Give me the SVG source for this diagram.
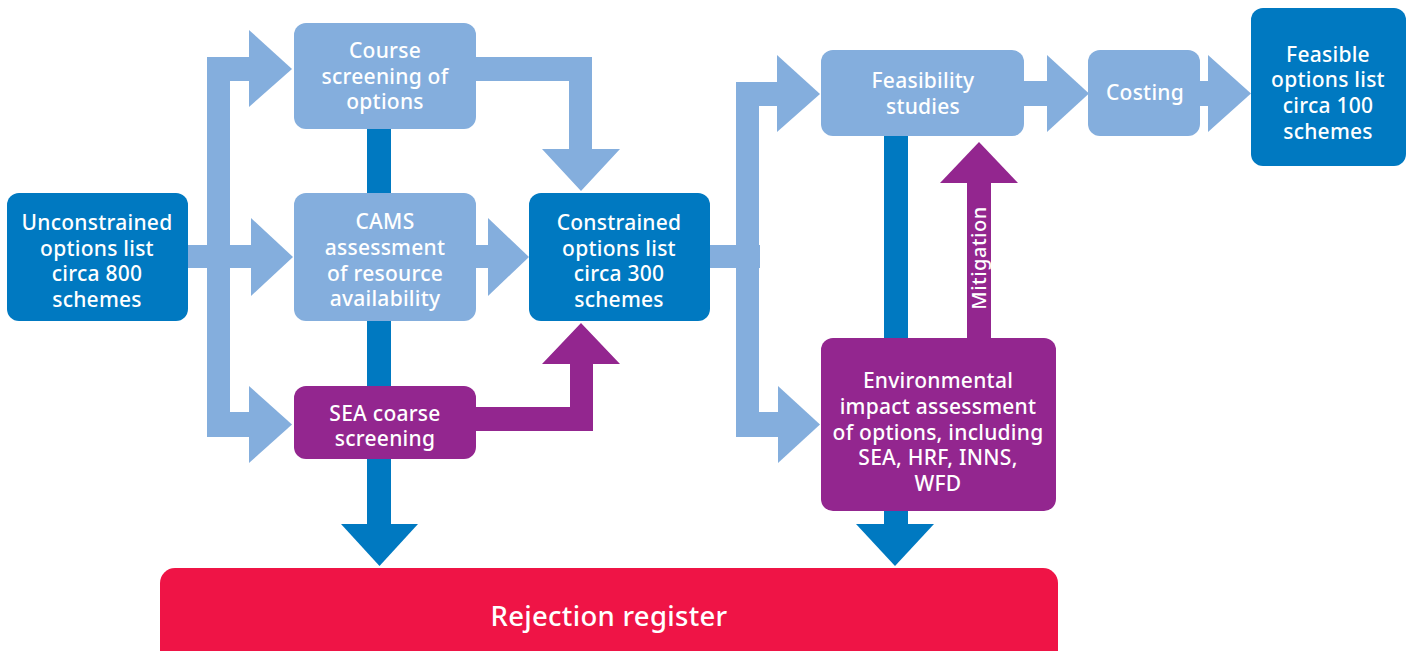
<svg xmlns="http://www.w3.org/2000/svg" width="1410" height="651" viewBox="0 0 1410 651">
<style>
.lb{fill:#84AEDD}
.db{fill:#0079C1}
.pu{fill:#93268F}
.rd{fill:#EF1446}
text{font-family:"Noto Sans","Open Sans","Liberation Sans",sans-serif;font-weight:500;fill:#fff;text-anchor:middle;font-size:21px;letter-spacing:0.25px}
</style>
<rect width="1410" height="651" fill="#fff"/>
<g id="connectors">
  <rect class="lb" x="207" y="57" width="23" height="380"/>
  <rect class="lb" x="207" y="57" width="43" height="24"/>
  <polygon class="lb" points="249,30 292,69 249,107"/>
  <rect class="lb" x="188" y="245" width="64" height="23"/>
  <polygon class="lb" points="251,218 293,257 251,296"/>
  <rect class="lb" x="207" y="412" width="43" height="25"/>
  <polygon class="lb" points="249,386 292,424.5 249,463"/>
  <polygon class="lb" points="476,57 592,57 592,149 620,149 581,191 542,149 569,149 569,81 476,81"/>
  <rect class="lb" x="476" y="245" width="13" height="23"/>
  <polygon class="lb" points="488,218 529,257 488,296"/>
  <rect class="lb" x="710" y="245" width="50" height="23"/>
  <rect class="lb" x="736" y="82" width="23" height="355"/>
  <rect class="lb" x="736" y="82" width="42" height="24"/>
  <polygon class="lb" points="777,55 820,94 777,132"/>
  <rect class="lb" x="736" y="412" width="43" height="25"/>
  <polygon class="lb" points="778,386 820,424.5 778,463"/>
  <rect class="lb" x="1024" y="81" width="24" height="25"/>
  <polygon class="lb" points="1047,55 1089,93.5 1047,132"/>
  <rect class="lb" x="1200" y="81" width="9" height="25"/>
  <polygon class="lb" points="1208,55 1251,93.5 1208,132"/>
  <rect class="db" x="367" y="129" width="24" height="396"/>
  <polygon class="db" points="341,524 418,524 379.5,566"/>
  <rect class="db" x="884" y="136" width="24" height="389"/>
  <polygon class="db" points="856,524 934,524 895,566"/>
  <polygon class="pu" points="476,407 570,407 570,364 542,364 581,323 620,364 593,364 593,431 476,431"/>
  <g id="mitigation">
    <rect class="pu" x="967" y="182" width="24" height="157"/>
    <polygon class="pu" points="940,183 979,142 1018,183"/>
    <text transform="translate(986,258) rotate(-90)" style="font-size:20px;letter-spacing:0.5px">Mitigation</text>
  </g>
</g>
<g id="unconstrained">
  <rect class="db" x="7" y="193" width="181" height="128" rx="12"/>
  <text x="97" y="230">Unconstrained</text>
  <text x="97" y="256">options list</text>
  <text x="97" y="281">circa 800</text>
  <text x="97" y="307">schemes</text>
</g>
<g id="course">
  <rect class="lb" x="294" y="23" width="182" height="106" rx="12"/>
  <text x="385" y="58">Course</text>
  <text x="385" y="84">screening of</text>
  <text x="385" y="109">options</text>
</g>
<g id="cams">
  <rect class="lb" x="294" y="193" width="182" height="128" rx="12"/>
  <text x="385" y="229">CAMS</text>
  <text x="385" y="255">assessment</text>
  <text x="385" y="281">of resource</text>
  <text x="385" y="306">availability</text>
</g>
<g id="sea">
  <rect class="pu" x="294" y="386" width="182" height="73" rx="12"/>
  <text x="385" y="421">SEA coarse</text>
  <text x="385" y="446">screening</text>
</g>
<g id="constrained">
  <rect class="db" x="529" y="193" width="181" height="128" rx="12"/>
  <text x="619" y="230">Constrained</text>
  <text x="619" y="256">options list</text>
  <text x="619" y="281">circa 300</text>
  <text x="619" y="307">schemes</text>
</g>
<g id="feasibility">
  <rect class="lb" x="821" y="50" width="203" height="86" rx="12"/>
  <text x="923" y="88">Feasibility</text>
  <text x="923" y="114">studies</text>
</g>
<g id="costing">
  <rect class="lb" x="1088" y="50" width="112" height="86" rx="12"/>
  <text x="1145" y="100">Costing</text>
</g>
<g id="feasible">
  <rect class="db" x="1251" y="8" width="155" height="158" rx="12"/>
  <text x="1328" y="62">Feasible</text>
  <text x="1328" y="87">options list</text>
  <text x="1328" y="113">circa 100</text>
  <text x="1328" y="139">schemes</text>
</g>
<g id="environmental">
  <rect class="pu" x="821" y="338" width="235" height="173" rx="12"/>
  <text x="938" y="388">Environmental</text>
  <text x="938" y="414">impact assessment</text>
  <text x="938" y="440">of options, including</text>
  <text x="938" y="465">SEA, HRF, INNS,</text>
  <text x="938" y="491">WFD</text>
</g>
<g id="rejection">
  <rect class="rd" x="160" y="568" width="898" height="100" rx="15"/>
  <text x="609" y="626" style="font-size:27.5px;letter-spacing:0.3px">Rejection register</text>
</g>
</svg>
